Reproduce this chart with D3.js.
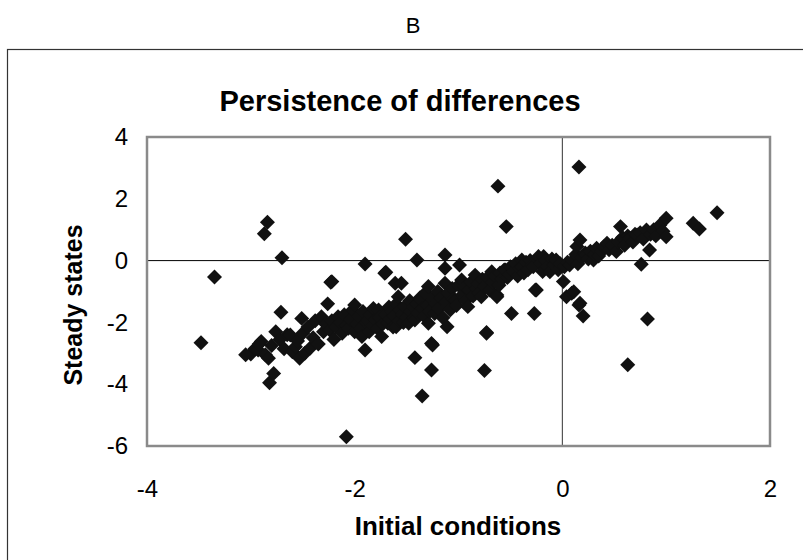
<!DOCTYPE html>
<html>
<head>
<meta charset="utf-8">
<script src="https://cdn.jsdelivr.net/npm/d3@7"></script>
<style>
  body { margin: 0; background: #fff; }
  svg { display: block; font-family: "Liberation Sans", Arial, sans-serif; }
</style>
</head>
<body>
<div id="chart"></div>
<script>
var panelLabel = "B";
var chartTitle = "Persistence of differences";
var xTitle = "Initial conditions";
var yTitle = "Steady states";
var xTicks = [-4, -2, 0, 2];
var yTicks = [4, 2, 0, -2, -4, -6];

// initial conditions (x) and steady states (y)
var initial = [
  -3.48,-3.35,-2.84,-2.87,-2.70,-2.71,-3.00,-2.96,-2.93,-2.90,-2.86,-2.83,-2.82,-2.78,-2.80,-2.76,-2.72,-2.68,-2.65,-2.62,-2.60,-2.57,-2.55,-2.53,-2.51,-2.50,-2.48,-3.05,-2.92,
  -2.45,-2.43,-2.40,-2.38,-2.35,-2.32,-2.30,-2.28,-2.26,-2.24,-2.22,-2.22,-2.20,-2.18,-2.16,-2.14,-2.12,-2.10,-2.08,-2.08,-2.06,-2.04,-2.02,-2.00,-2.00,-2.23,
  -1.98,-1.96,-1.94,-1.93,-1.92,-1.90,-1.90,-1.89,-1.87,-1.86,-1.85,-1.83,-1.82,-1.80,-1.78,-1.77,-1.76,-1.74,-1.73,-1.71,-1.70,-1.70,-1.68,-1.67,-1.66,-1.64,-1.63,-1.62,-1.61,-1.60,-1.60,-1.58,-1.57,-1.56,-1.55,-1.54,-1.53,-1.52,-1.51,-1.50,
  -1.48,-1.47,-1.46,-1.44,-1.43,-1.42,-1.42,-1.40,-1.40,-1.39,-1.37,-1.36,-1.35,-1.35,-1.33,-1.32,-1.30,-1.29,-1.29,-1.28,-1.26,-1.26,-1.25,-1.25,-1.23,-1.22,-1.20,-1.19,-1.17,-1.15,-1.13,-1.13,-1.13,-1.12,-1.11,-1.10,-1.08,-1.06,-1.05,-1.03,-1.02,-1.00,
  -0.99,-0.97,-0.96,-0.94,-0.93,-0.91,-0.90,-0.88,-0.86,-0.84,-0.83,-0.81,-0.80,-0.78,-0.77,-0.75,-0.75,-0.73,-0.73,-0.72,-0.70,-0.68,-0.67,-0.65,-0.63,-0.63,-0.62,-0.61,-0.60,-0.58,-0.56,-0.55,-0.54,-0.53,-0.51,-0.49,-0.50,
  -0.47,-0.45,-0.43,-0.41,-0.39,-0.39,-0.37,-0.35,-0.33,-0.31,-0.29,-0.28,-0.27,-0.26,-0.25,-0.24,-0.23,-0.21,-0.19,-0.18,-0.16,-0.14,-0.12,-0.10,-0.08,-0.06,-0.04,-0.02,
  0.01,0.02,0.04,0.05,0.07,0.09,0.10,0.11,0.13,0.14,0.15,0.16,0.16,0.17,0.17,0.19,0.20,0.22,0.23,0.25,0.27,0.30,0.31,0.33,0.35,0.38,0.40,0.43,0.45,0.48,
  0.52,0.54,0.56,0.58,0.60,0.63,0.63,0.65,0.68,0.70,0.72,0.75,0.76,0.78,0.81,0.82,0.84,0.85,0.88,0.90,0.94,0.97,1.00,1.00,1.26,1.32,1.49
];
var steady = [
  -2.66,-0.53,1.24,0.87,0.09,-1.67,-3.02,-2.85,-2.89,-2.62,-3.05,-3.16,-3.95,-3.65,-2.75,-2.30,-2.55,-2.85,-2.40,-2.41,-2.95,-2.79,-2.60,-3.16,-1.87,-2.35,-3.00,-3.05,-2.70,
  -2.15,-2.84,-2.50,-1.95,-2.70,-1.82,-2.30,-2.05,-1.40,-2.25,-0.68,-1.95,-2.55,-2.15,-1.82,-2.00,-2.35,-1.75,-5.70,-2.10,-2.19,-1.90,-1.60,-1.44,-2.30,-0.70,
  -2.05,-1.80,-2.20,-2.46,-1.65,-2.89,-0.11,-2.00,-1.92,-2.30,-1.75,-2.10,-1.55,-1.90,-2.20,-1.60,-1.85,-2.46,-2.05,-0.41,-1.75,-0.38,-2.03,-1.50,-1.90,-1.65,-2.15,-1.80,-0.73,-2.14,-1.40,-1.17,-1.95,-1.60,-0.73,-1.75,-2.00,-1.49,0.69,-1.85,
  -2.03,-1.30,-1.65,-1.50,-1.85,-1.92,-3.14,0.02,-1.40,-1.70,-1.20,-1.28,-4.38,-1.55,-1.80,-1.05,-1.45,-0.84,-2.03,-1.65,-2.68,-3.54,-2.73,-1.25,-1.71,-1.40,-1.00,-1.55,-1.20,-1.85,-0.73,0.18,-0.25,-1.35,-2.14,-1.05,-1.60,-0.90,-1.25,-1.28,-1.45,-0.80,
  -0.14,-0.63,-1.10,-0.85,-1.30,-1.49,-0.95,-0.70,-1.15,-0.47,-0.90,-0.75,-1.05,-1.17,-0.60,-3.56,-0.85,-2.33,-2.35,-0.55,-0.95,-0.36,-0.70,-0.50,-1.11,-1.17,2.41,-0.80,-0.40,-0.60,-0.30,-0.30,1.10,-0.55,-0.45,-1.71,-0.20,
  -0.35,-0.10,-0.50,-0.25,0.02,-0.20,-0.40,-0.05,-0.30,0.00,-0.15,-0.20,-1.71,-0.95,-0.95,0.05,0.13,-0.10,-0.35,0.13,0.00,-0.20,-0.36,0.05,-0.15,0.02,-0.30,-0.10,
  -0.68,-0.20,-1.17,-0.05,-0.14,-1.06,0.00,-1.01,0.20,0.46,-0.10,-1.44,3.03,0.67,-1.38,0.10,-1.79,0.25,0.18,0.05,0.30,0.02,0.20,0.40,0.15,0.30,0.45,0.56,0.35,0.50,
  0.29,0.60,1.10,0.75,0.50,-3.37,0.80,0.72,0.60,0.85,0.83,0.90,-0.12,0.70,0.99,-1.89,0.34,0.85,1.00,0.80,1.15,0.95,1.37,0.77,1.21,1.02,1.55
];

var width = 803;
var height = 560;
var margin = { top: 137, right: 33, bottom: 114, left: 147 };
var plotW = width - margin.left - margin.right;
var plotH = height - margin.top - margin.bottom;

var points = initial.map((d, i) => ({ x: d, y: steady[i] }));

var svg = d3.select("#chart")
  .append("svg")
  .attr("width", width)
  .attr("height", height);

// outer frame, runs off the right and bottom edges
svg.append("rect")
  .attr("x", 7.5)
  .attr("y", 49.5)
  .attr("width", 900)
  .attr("height", 600)
  .attr("fill", "none")
  .attr("stroke", "#333")
  .attr("stroke-width", 1.2);

svg.append("text")
  .attr("x", 413)
  .attr("y", 33)
  .attr("text-anchor", "middle")
  .style("font-size", "22px")
  .text(panelLabel);

svg.append("text")
  .attr("x", 400)
  .attr("y", 111)
  .attr("text-anchor", "middle")
  .style("font-size", "29px")
  .style("font-weight", "bold")
  .text(chartTitle);

var x = d3.scaleLinear().domain([-4, 2]).range([margin.left, margin.left + plotW]);
var y = d3.scaleLinear().domain([-6, 4]).range([margin.top + plotH, margin.top]);

var g = svg.append("g");

// zero lines
g.append("line")
  .attr("x1", x(-4)).attr("x2", x(2))
  .attr("y1", y(0)).attr("y2", y(0))
  .attr("stroke", "#000").attr("stroke-width", 1);
g.append("line")
  .attr("x1", x(0)).attr("x2", x(0))
  .attr("y1", y(4)).attr("y2", y(-6))
  .attr("stroke", "#333").attr("stroke-width", 1);

// axes: labels only, plot border drawn separately
var fmt = (d) => String(d);
var xAxis = svg.append("g")
  .attr("transform", `translate(0,${margin.top + plotH})`)
  .call(d3.axisBottom(x).tickValues(xTicks).tickSize(0).tickPadding(34).tickFormat(fmt));
var yAxis = svg.append("g")
  .attr("transform", `translate(${margin.left},0)`)
  .call(d3.axisLeft(y).tickValues(yTicks).tickSize(0).tickPadding(19).tickFormat(fmt));
[xAxis, yAxis].forEach((a) => {
  a.select(".domain").remove();
  a.selectAll("text")
    .style("font-size", "24px")
    .style("font-family", "'Liberation Sans', Arial, sans-serif")
    .attr("fill", "#000");
});

g.selectAll("path.pt")
  .data(points)
  .join("path")
  .attr("class", "pt")
  .attr("d", d3.symbol(d3.symbolSquare, 112))
  .attr("transform", (d) => `translate(${x(d.x)},${y(d.y)}) rotate(45)`)
  .attr("fill", "#111");

svg.append("rect")
  .attr("x", margin.left)
  .attr("y", margin.top)
  .attr("width", plotW)
  .attr("height", plotH)
  .attr("fill", "none")
  .attr("stroke", "#8a8a8a")
  .attr("stroke-width", 2.5);

svg.append("text")
  .attr("x", 458)
  .attr("y", 535)
  .attr("text-anchor", "middle")
  .style("font-size", "26px")
  .style("font-weight", "bold")
  .text(xTitle);

svg.append("text")
  .attr("transform", "translate(82,305) rotate(-90)")
  .attr("text-anchor", "middle")
  .style("font-size", "25px")
  .style("font-weight", "bold")
  .text(yTitle);
</script>
</body>
</html>
